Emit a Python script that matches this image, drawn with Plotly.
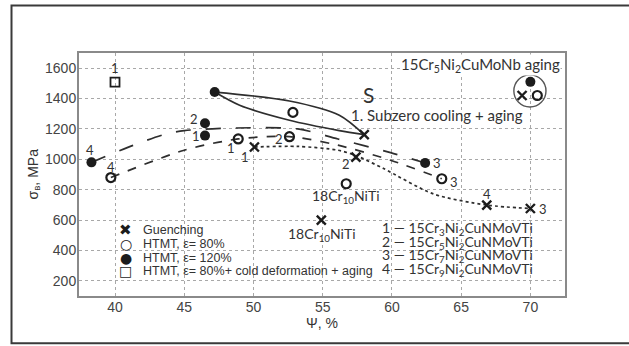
import plotly.graph_objects as go

# ---------------- data ----------------
# Guenching (X markers)
quench_x = [50.07, 57.4, 58.0, 66.85, 70.0, 54.9, 69.4]
quench_y = [1081, 1015, 1162, 699, 676, 600, 1420]
quench_lbl = ["1", "2", "", "4", "3", "", ""]
# HTMT, e=80% (open circles)
open_x = [39.7, 48.9, 52.6, 63.6, 52.85, 56.7, 70.5]
open_y = [880, 1134, 1149, 872, 1309, 839, 1420]
open_lbl = ["4", "1", "2", "3", "", "", ""]
# HTMT, e=120% (filled circles)
fill_x = [38.3, 46.5, 46.5, 62.4, 47.2, 70.0]
fill_y = [980, 1237, 1156, 976, 1443, 1510]
fill_lbl = ["4", "2", "1", "3", "", ""]
# HTMT, e=80% + cold deformation + aging (squares)
sq_x = [40.0]
sq_y = [1508]
sq_lbl = ["1"]

# trend curves
curve_fill_x = [38.3, 41.3, 43.7, 45.0, 48.7, 53.2, 56.1, 59.9, 62.4]
curve_fill_y = [980, 1092, 1167, 1189, 1206, 1200, 1134, 1044, 976]
curve_open_x = [39.7, 45.0, 48.9, 52.6, 56.1, 59.9, 63.6]
curve_open_y = [880, 1060, 1134, 1149, 1093, 994, 872]
curve_q_x = [50.07, 53.2, 56.1, 57.4, 59.4, 63.0, 66.85, 70.0]
curve_q_y = [1081, 1085, 1060, 1025, 939, 772, 699, 676]
lens_up_x = [47.2, 52.6, 56.2, 58.0]
lens_up_y = [1443, 1384, 1290, 1162]
lens_lo_x = [47.2, 49.0, 52.6, 56.2, 58.0]
lens_lo_y = [1443, 1356, 1257, 1189, 1162]

# aging group (circled)
group_x = [70.0, 69.4, 70.5]
group_y = [1510, 1420, 1420]

x_ticks = [40, 45, 50, 55, 60, 65, 70]
y_ticks = [200, 400, 600, 800, 1000, 1200, 1400, 1600]

steel_names = ["1 — 15Cr<sub>3</sub>Ni<sub>2</sub>CuNMoVTi",
               "2 — 15Cr<sub>5</sub>Ni<sub>2</sub>CuNMoVTi",
               "3 — 15Cr<sub>7</sub>Ni<sub>2</sub>CuNMoVTi",
               "4 — 15Cr<sub>9</sub>Ni<sub>2</sub>CuNMoVTi"]
legend_sym = ["<b>✖</b>", "<b>○</b>", "●", "<b>□</b>"]
legend_sym_size = [15, 14, 14, 14]
legend_txt = ["Guenching", "HTMT, ε= 80%", "HTMT, ε= 120%",
              "HTMT, ε= 80%+ cold deformation + aging"]

# ---------------- figure ----------------
INK = "#1c1c1c"
LINE = "#2e2e2e"
TXT = "#333333"
MYR = "Lato, Open Sans, sans-serif"
ARI = "Liberation Sans, Arial, sans-serif"

W, H = 629, 346
ML, MR, MT, MB = 79, 64, 53, 50
PW, PH = W - ML - MR, H - MT - MB


def px(xp):
    return (xp - ML) / PW


def py(yp):
    return (H - MB - yp) / PH


fig = go.Figure()

for xs, ys, dash in [(lens_up_x, lens_up_y, "solid"), (lens_lo_x, lens_lo_y, "solid"),
                     (curve_fill_x, curve_fill_y, "longdash"),
                     (curve_open_x, curve_open_y, "dash"),
                     (curve_q_x, curve_q_y, "dot")]:
    fig.add_trace(go.Scatter(x=xs, y=ys, mode="lines", showlegend=False,
                             line=dict(color=LINE, width=1.7, dash=dash, shape="spline",
                                       smoothing=0.8),
                             hoverinfo="skip"))

fig.add_trace(go.Scatter(x=quench_x, y=quench_y, mode="markers", showlegend=False,
                         marker=dict(symbol="x-thin-open", size=9, color=INK,
                                     line=dict(width=2.4, color=INK))))
fig.add_trace(go.Scatter(x=open_x, y=open_y, mode="markers", showlegend=False,
                         marker=dict(symbol="circle-open", size=9, color=INK,
                                     line=dict(width=2.2, color=INK))))
fig.add_trace(go.Scatter(x=fill_x, y=fill_y, mode="markers", showlegend=False,
                         marker=dict(symbol="circle", size=10, color=INK)))
fig.add_trace(go.Scatter(x=sq_x, y=sq_y, mode="markers", showlegend=False,
                         marker=dict(symbol="square-open", size=9, color=INK,
                                     line=dict(width=1.8, color=INK))))

ann = []
# point number labels: pixel offsets per point
offs_q = [(-9, -10), (-10, -7), None, (0, 11), (13, 0), None, None]
offs_o = [(0, 11), (-7, -9), (-10, -2), (12, -3), None, None, None]
offs_f = [(-1, 12), (-11, 4), (-9, 0), (12, 0), None, None]
offs_s = [(0, 14)]
for xs, ys, lb, offs in [(quench_x, quench_y, quench_lbl, offs_q),
                         (open_x, open_y, open_lbl, offs_o),
                         (fill_x, fill_y, fill_lbl, offs_f),
                         (sq_x, sq_y, sq_lbl, offs_s)]:
    for x, y, t, o in zip(xs, ys, lb, offs):
        if t and o:
            ann.append(dict(x=x, y=y, text=t, showarrow=False, xshift=o[0], yshift=o[1],
                            font=dict(family=MYR, size=13, color=TXT)))

ann += [
    dict(x=58.29, y=1424, text="S", showarrow=False,
         font=dict(family=MYR, size=21, color=TXT)),
    dict(x=63.23, y=1292, text="1. Subzero cooling + aging", showarrow=False,
         font=dict(family=MYR, size=15, color=TXT)),
    dict(x=66.39, y=1621, text="15Cr<sub>5</sub>Ni<sub>2</sub>CuMoNb aging", showarrow=False,
         bgcolor="white", borderpad=0, font=dict(family=MYR, size=15, color=TXT)),
    dict(x=56.71, y=754, text="18Cr<sub>10</sub>NiTi", showarrow=False,
         font=dict(family=MYR, size=14, color=TXT)),
    dict(x=54.94, y=503, text="18Cr<sub>10</sub>NiTi", showarrow=False,
         font=dict(family=MYR, size=14, color=TXT)),
]
for name, yy in zip(steel_names, [547, 455, 367, 273]):
    ann.append(dict(x=59.13, y=yy, text=name, showarrow=False, xanchor="left",
                    font=dict(family=MYR, size=14, color=TXT)))
for s, ss, t, yy in zip(legend_sym, legend_sym_size, legend_txt, [535, 441, 353, 266]):
    ann.append(dict(x=40.79, y=yy, text=s, showarrow=False,
                    font=dict(family="DejaVu Sans", size=ss, color=INK)))
    ann.append(dict(x=41.88, y=yy, text=t, showarrow=False, xanchor="left",
                    font=dict(family=ARI, size=12.5, color=TXT)))

ann += [
    dict(xref="paper", yref="paper", x=px(33), y=0.5, xanchor="center", yanchor="middle",
         text="σ<sub>в</sub>, MPa", textangle=-90, showarrow=False,
         font=dict(family=ARI, size=14, color=TXT)),
    dict(xref="paper", yref="paper", x=0.5, y=py(323), xanchor="center", yanchor="middle",
         text="Ψ, %", showarrow=False, font=dict(family=ARI, size=14, color=TXT)),
]

gx = sum(group_x) / len(group_x)
gy = sum(group_y) / len(group_y)
shapes = [
    # white panels behind the two legend blocks (hide grid)
    dict(type="rect", xref="paper", yref="paper", x0=px(120), x1=px(374), y0=py(277),
         y1=py(222), fillcolor="white", line=dict(width=0), layer="between"),
    dict(type="rect", xref="paper", yref="paper", x0=px(377), x1=px(540), y0=py(277),
         y1=py(220), fillcolor="white", line=dict(width=0), layer="between"),
    dict(type="circle", xref="x", yref="y", x0=gx - 1.16, x1=gx + 1.16,
         y0=gy - 106, y1=gy + 106, line=dict(color="#555", width=1.4)),
    dict(type="rect", xref="paper", yref="paper", x0=px(11.5), x1=px(640), y0=py(343.3),
         y1=py(5.5), line=dict(color="#3a3a3a", width=2), layer="below"),
]

fig.update_layout(
    width=W, height=H, margin=dict(l=ML, r=MR, t=MT, b=MB),
    paper_bgcolor="white", plot_bgcolor="white",
    annotations=ann, shapes=shapes, showlegend=False,
    xaxis=dict(range=[37.4, 72.5], tickvals=x_ticks, showgrid=True, gridcolor="#a8a8a8",
               griddash="dot", gridwidth=1, showline=True, mirror=True, linecolor="#8a8a8a",
               linewidth=2, ticks="", zeroline=False, ticklabelstandoff=-3,
               tickfont=dict(family=ARI, size=14, color="#444")),
    yaxis=dict(range=[100, 1700], tickvals=y_ticks, showgrid=True, gridcolor="#a8a8a8",
               griddash="dot", gridwidth=1, showline=True, mirror=True, linecolor="#8a8a8a",
               linewidth=2, ticks="", zeroline=False, ticklabelstandoff=-2,
               tickfont=dict(family=ARI, size=14, color="#444")),
)

fig.write_html("out.html", config={"displayModeBar": False},
               post_script="document.body.style.margin='0';")
